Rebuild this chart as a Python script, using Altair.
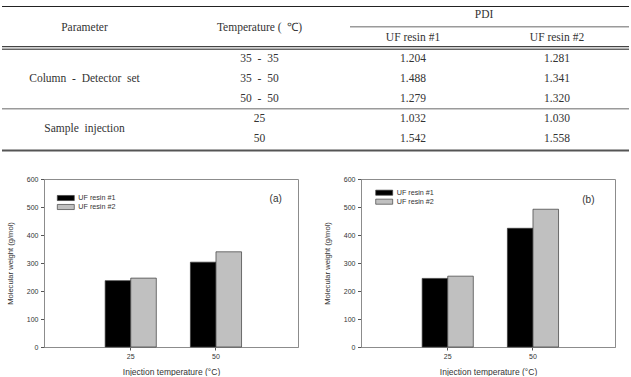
import altair as alt
import pandas as pd

# ---- table data ----
SP = "\u2002"  # wide word spacing used in the table body
param_groups = [f"Column{SP}-{SP}Detector{SP}set", f"Sample{SP}injection"]
group_rows = [[0, 1, 2], [3, 4]]
temp_sets = [f"35{SP}-{SP}35", f"35{SP}-{SP}50", f"50{SP}-{SP}50", "25", "50"]
pdi_resin1 = [1.204, 1.488, 1.279, 1.032, 1.542]
pdi_resin2 = [1.281, 1.341, 1.320, 1.030, 1.558]

# ---- bar chart data ----
inj_temps = ["25", "50"]
resins = ["UF resin #1", "UF resin #2"]
mw_a_resin1 = [237, 303]
mw_a_resin2 = [246, 340]
mw_b_resin1 = [245, 424]
mw_b_resin2 = [253, 492]

SERIF = "Liberation Serif"
SANS = "Liberation Sans"
INK = "#333333"

# ---------------- table ----------------
body = pd.DataFrame({
    "row": list(range(len(temp_sets))),
    "temp": temp_sets,
    "pdi1": pdi_resin1,
    "pdi2": pdi_resin2,
})
groups = pd.DataFrame({
    "name": param_groups,
    "row": [sum(r) / len(r) for r in group_rows],
})

row_y = alt.Y("row:Q", scale=alt.Scale(domain=[0, 4], range=[59, 139]), axis=None)
one = pd.DataFrame({"k": [0]})


def body_col(data, text, x):
    return alt.Chart(data).mark_text(font=SERIF, fontSize=11.5, color=INK).encode(
        x=alt.value(x), y=row_y, text=text
    )


def head(label, x, y):
    return alt.Chart(pd.DataFrame({"label": [label]})).mark_text(
        font=SERIF, fontSize=11.5, color=INK
    ).encode(x=alt.value(x), y=alt.value(y), text="label:N")


def hline(x1, x2, y, color, w):
    return alt.Chart(one).mark_rule(color=color, strokeWidth=w).encode(
        x=alt.value(x1), x2=alt.value(x2), y=alt.value(y)
    )


table = alt.layer(
    hline(2, 629, 6.5, "#222222", 1),
    hline(350, 629, 26.8, "#9a9a9a", 1.5),
    hline(2, 629, 46.6, "#444444", 1.4),
    hline(2, 629, 49.3, "#666666", 1.4),
    hline(2, 629, 108.8, "#9a9a9a", 1.5),
    hline(2, 629, 150.6, "#555555", 2),
    head("Parameter", 84.5, 28),
    head("Temperature (\u2002\u2103)", 259.5, 28),
    head("PDI", 484, 15),
    head("UF resin #1", 413, 38),
    head("UF resin #2", 557, 38),
    body_col(groups, "name:N", 84.5),
    body_col(body, "temp:N", 259.5),
    body_col(body, alt.Text("pdi1:Q", format=".3f"), 413),
    body_col(body, alt.Text("pdi2:Q", format=".3f"), 557),
).properties(width=631, height=160, view=alt.ViewBackground(stroke=None))


# ---------------- bar panels ----------------
def panel(r1, r2, tag, tag_x, tag_y, leg_x, leg_y):
    df = pd.DataFrame({
        "temp": inj_temps * 2,
        "resin": [resins[0]] * len(inj_temps) + [resins[1]] * len(inj_temps),
        "mw": r1 + r2,
    })
    bars = alt.Chart(df).mark_bar(stroke="#3a3a3a", strokeWidth=0.7).encode(
        x=alt.X(
            "temp:N",
            sort=inj_temps,
            scale=alt.Scale(paddingInner=0.4, paddingOuter=0.69, align=0.52),
            axis=alt.Axis(
                title="Injection temperature (\u00b0C)",
                labelAngle=0,
                tickSize=3,
                labelPadding=2,
                titlePadding=8,
                titleFontSize=8.5,
                minExtent=0,
            ),
        ),
        xOffset=alt.XOffset("resin:N", sort=resins,
                            scale=alt.Scale(paddingInner=0, paddingOuter=0)),
        y=alt.Y(
            "mw:Q",
            scale=alt.Scale(domain=[0, 600], nice=False),
            axis=alt.Axis(
                values=list(range(0, 601, 100)),
                title="Molecular weight (g/mol)",
                tickSize=3.5,
                labelPadding=2.5,
                titlePadding=11.5,
                titleFontSize=7.6,
                minExtent=0,
            ),
        ),
        color=alt.Color(
            "resin:N",
            sort=resins,
            scale=alt.Scale(domain=resins, range=["#000000", "#c0c0c0"]),
            legend=alt.Legend(
                title=None,
                orient="none",
                legendX=leg_x,
                legendY=leg_y,
                symbolType="M-2,-0.6H2V0.6H-2Z",
                symbolSize=72,
                symbolStrokeColor="#444444",
                symbolStrokeWidth=0.7,
                labelFont=SANS,
                labelFontSize=7.2,
                labelColor=INK,
                labelOffset=7.5,
                rowPadding=0,
                padding=0,
            ),
        ),
    )
    label = alt.Chart(pd.DataFrame({"tag": [tag]})).mark_text(
        font=SANS, fontSize=10, color=INK
    ).encode(x=alt.value(tag_x), y=alt.value(tag_y), text="tag:N")
    return alt.layer(bars, label).properties(
        width=254, height=168, view=alt.ViewBackground(stroke="#8c8c8c")
    )


panel_a = panel(mw_a_resin1, mw_a_resin2, "(a)", 231.7, 19.7, 16.8, 14)
panel_b = panel(mw_b_resin1, mw_b_resin2, "(b)", 227.4, 20.7, 18.2, 8.7)

# narrow blank column that keeps the left panel's axis title off the page edge
spacer = alt.Chart(one).mark_rule(strokeWidth=0, opacity=0).encode(
    x=alt.value(1), y=alt.value(0), y2=alt.value(1)
).properties(width=5.5, height=1, view=alt.ViewBackground(stroke=None))

panels = alt.hconcat(panel_a, panel_b, spacing=24).resolve_scale(color="independent")
bottom_row = alt.hconcat(spacer, panels, spacing=0)

chart = alt.vconcat(table, bottom_row, spacing=14).properties(
    padding=0, background="white"
).configure_axis(
    labelFont=SANS,
    titleFont=SANS,
    labelColor=INK,
    titleColor=INK,
    labelFontSize=7,
    titleFontWeight="normal",
    domainColor="#8c8c8c",
    tickColor="#555555",
    grid=False,
)

chart.save("out.html", embed_options={"renderer": "svg", "actions": False})
